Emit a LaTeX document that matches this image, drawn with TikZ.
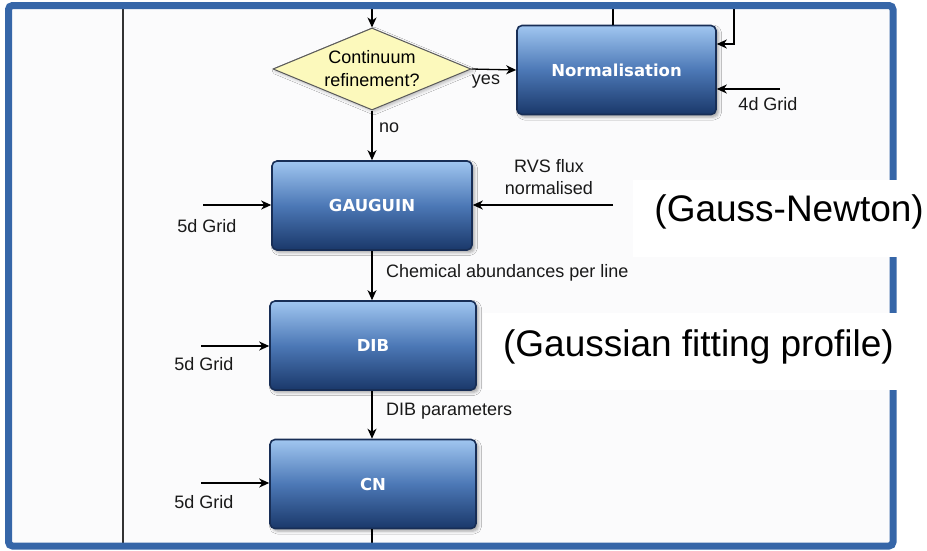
\documentclass[tikz,border=0pt]{standalone}
\usepackage{fontspec}
\setmainfont{Liberation Sans}
\newfontfamily\boxfont{DejaVu Sans}
\usetikzlibrary{shapes.geometric,arrows.meta,shadows.blur}
\definecolor{frameblue}{RGB}{54,102,168}
\definecolor{boxtop}{RGB}{160,198,240}
\definecolor{boxmid}{RGB}{76,120,182}
\definecolor{boxbot}{RGB}{26,56,106}
\definecolor{boxline}{RGB}{24,46,86}
\definecolor{decisionfill}{RGB}{252,249,188}
\definecolor{panelgray}{RGB}{251,251,252}

\begin{document}
\begin{tikzpicture}[x=1pt,y=-1pt,
  stagebox/.style={rectangle, rounded corners=5pt, draw=boxline, line width=1.6pt,
    top color=boxtop, bottom color=boxbot, middle color=boxmid,
    text=white, font=\boxfont\bfseries\fontsize{16.5}{19}\selectfont,
    minimum height=89pt, inner sep=0pt,
    blur shadow={shadow xshift=2.5pt, shadow yshift=-2.5pt, shadow blur radius=3pt, shadow opacity=35}},
  decision/.style={diamond, shape aspect=2.4, draw=black!65, line width=1pt, fill=decisionfill,
    minimum width=198pt, minimum height=82pt, inner sep=0pt, align=center,
    font=\fontsize{18}{23}\selectfont,
    blur shadow={shadow xshift=2pt, shadow yshift=-2pt, shadow blur radius=3pt, shadow opacity=25}},
  flow/.style={draw=black, line width=1.3pt, -{Stealth[length=10pt,width=9pt,inset=3pt]}},
  plainline/.style={draw=black, line width=1.3pt},
  lbl/.style={font=\fontsize{18}{22}\selectfont, inner sep=0pt, text=black!90},
  bigtext/.style={font=\fontsize{37}{42}\selectfont, inner sep=0pt},
  lane/.style={draw=black!80, line width=1.3pt},
  frame/.style={draw=frameblue, line width=7pt, rounded corners=4pt}
]
\useasboundingbox (0,0) rectangle (927,550);

% page and swimlane background
\fill[white] (0,0) rectangle (927,550);
\fill[panelgray] (8,6) rectangle (893,546);
\coordinate (laneTop) at (123,6);
\coordinate (laneBot) at (123,546);
\draw[lane] (laneTop) -- (laneBot);

% process steps
\node[decision] (cont) at (372,69) {Continuum\\refinement?};
\node[stagebox, minimum width=199pt] (norm) at (616.5,70) {Normalisation};
\node[stagebox, minimum width=200pt] (gaug) at (372,205.5) {GAUGUIN};
\node[stagebox, minimum width=206pt] (dib) at (373,345.5) {DIB};
\node[stagebox, minimum width=206pt] (cn) at (373,484) {CN};

% incoming flow and decision
\coordinate (inTop) at (372,6);
\draw[flow] (inTop) -- (cont.north);
\draw[flow] (cont.east) -- (norm.west);
\node[lbl] (yes) at (486,82) {yes};
\draw[flow] (cont.south) -- (cont.south |- gaug.north);
\node[lbl, anchor=west] (no) at (379,128) {no};

% normalisation connections
\coordinate (normOut) at (613,6);
\draw[plainline] (norm.north -| normOut) -- (normOut);
\coordinate (loopIn) at (734,6);
\coordinate (loopCorner) at (734,44);
\draw[flow] (loopIn) -- (loopCorner) -- (norm.east |- loopCorner);
\coordinate (gridFour) at (780,89);
\draw[flow] (gridFour) -- (norm.east |- gridFour);
\node[lbl] (gridFourLbl) at (768,104) {4d Grid};

% GAUGUIN
\coordinate (gaugGrid) at (203,205);
\draw[flow] (gaugGrid) -- (gaug.west |- gaugGrid);
\node[lbl] (gaugGridLbl) at (207,226) {5d Grid};
\coordinate (rvs) at (613,205);
\draw[flow] (rvs) -- (gaug.east |- rvs);
\node[lbl, align=center, font=\fontsize{18}{22}\selectfont] (rvsLbl) at (549,177) {RVS flux\\normalised};
\draw[flow] (gaug.south) -- (gaug.south |- dib.north);
\node[lbl, anchor=west] (chemLbl) at (386,273) {Chemical abundances per line};

% DIB
\coordinate (dibGrid) at (201,346);
\draw[flow] (dibGrid) -- (dib.west |- dibGrid);
\node[lbl] (dibGridLbl) at (204,364) {5d Grid};
\draw[flow] (gaug.south |- dib.south) -- (gaug.south |- cn.north);
\node[lbl, anchor=west] (dibLbl) at (386,411) {DIB parameters};

% CN
\coordinate (cnGrid) at (201,483);
\draw[flow] (cnGrid) -- (cn.west |- cnGrid);
\node[lbl] (cnGridLbl) at (204,502) {5d Grid};
\coordinate (outBot) at (372,546);
\draw[plainline] (gaug.south |- cn.south) -- (outBot);

% outer frame
\draw[frame] (8.5,5.5) rectangle (893,546);

% annotations over the frame
\fill[white] (633,180) rectangle (927,257);
\fill[white] (483,313) rectangle (927,390);
\node[bigtext, anchor=east] (gaussNewton) at (924,212) {(Gauss-Newton)};
\node[bigtext, anchor=east] (gaussFit) at (894,347) {(Gaussian fitting profile)};
\end{tikzpicture}
\end{document}
